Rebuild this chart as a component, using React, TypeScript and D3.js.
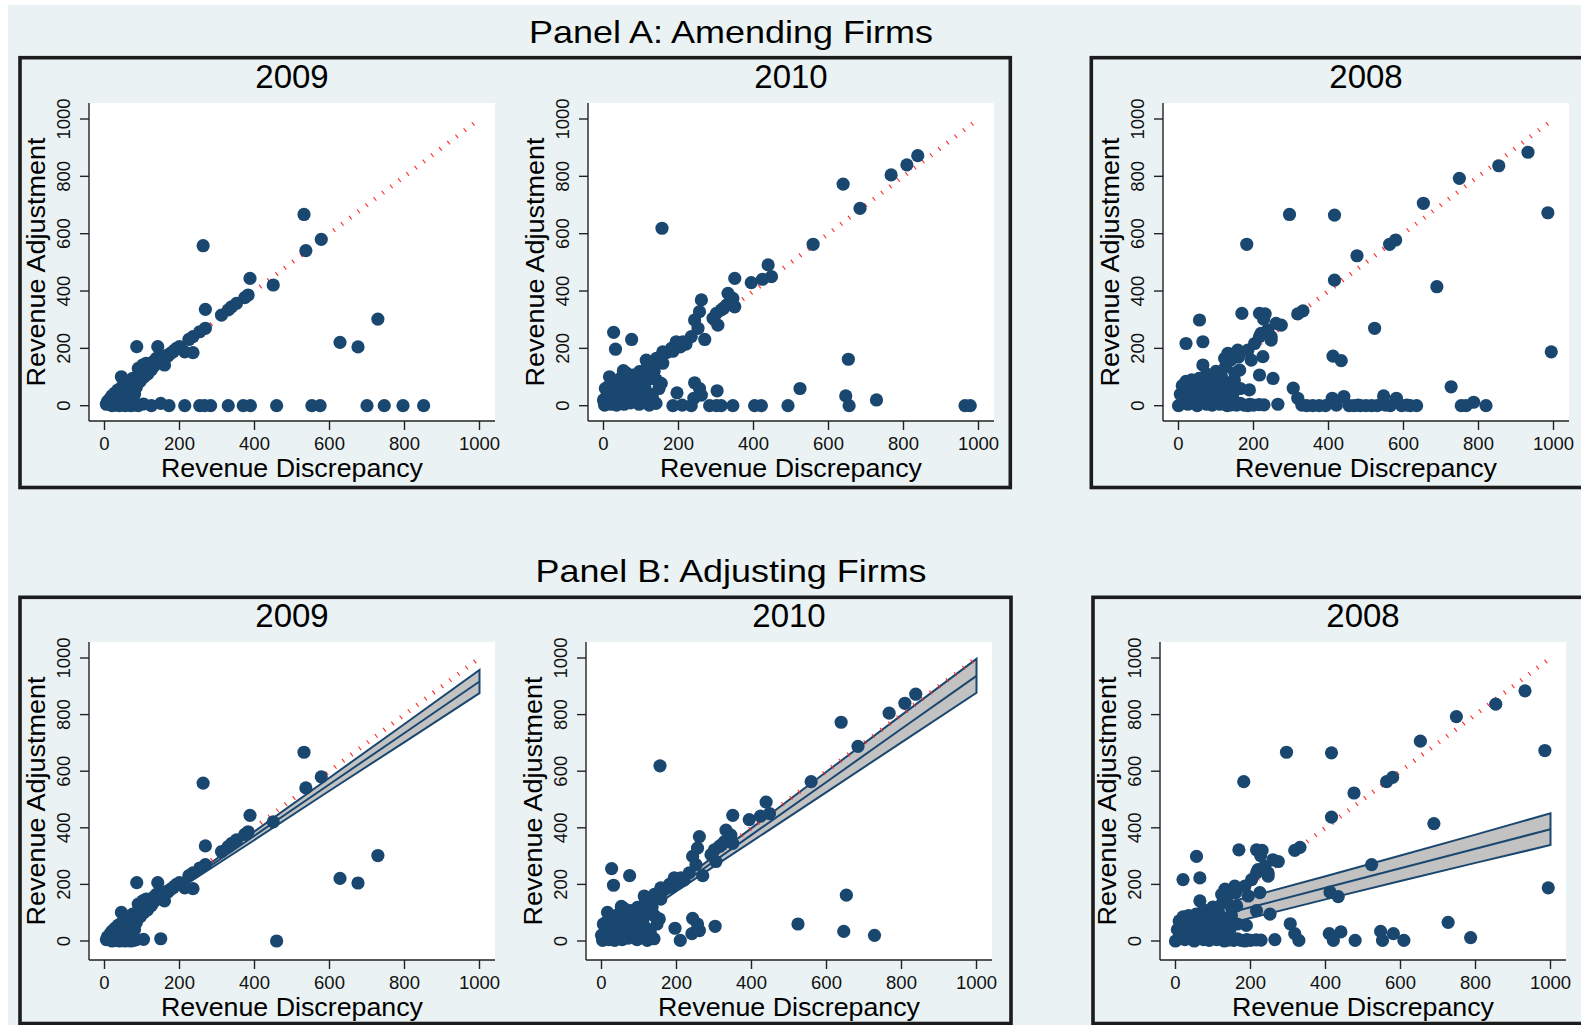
import React from 'react';
import * as d3 from 'd3';

type Pt = [number, number];

// ---------- data ----------
const years = ['2009', '2010', '2008'];
const xTicks = [0, 200, 400, 600, 800, 1000];
const yTicks = [0, 200, 400, 600, 800, 1000];

// firms with a revenue adjustment (appear in Panel A and Panel B)
const adj2009: Pt[] = [
  [532, 667], [263, 558], [578, 580], [537, 541], [388, 444], [450, 421], [383, 386], [374, 377],
  [352, 357], [339, 345], [330, 334], [312, 316], [269, 336], [269, 270], [254, 258], [236, 241],
  [225, 231], [236, 185], [214, 188], [200, 206], [183, 188], [169, 173], [160, 142], [142, 206],
  [86, 206], [729, 302], [628, 221], [676, 205], [459, 0], [104, 6], [150, 8],
  [5, 5], [8, 15], [12, 8], [15, 25], [18, 3], [20, 35], [25, 15], [28, 45], [30, 2], [33, 28],
  [36, 55], [40, 10], [42, 38], [45, 101], [46, 65], [50, 22], [52, 48], [55, 75], [58, 5], [60, 35],
  [62, 60], [65, 85], [68, 20], [70, 50], [72, 72], [75, 95], [78, 2], [80, 40], [82, 80], [85, 65],
  [88, 95], [90, 130], [95, 85], [98, 105], [102, 142], [105, 100], [110, 120], [111, 148], [115, 110],
  [120, 135], [125, 125], [129, 153], [133, 140], [138, 165], [145, 150], [150, 160], [155, 170],
  [165, 175], [175, 182], [185, 192], [192, 200], [20, 0], [40, 0], [55, 0], [70, 0], [85, 5],
];
// amending firms with zero adjustment (Panel A only)
const zero2009 = [90, 125, 172, 214, 254, 267, 283, 330, 370, 389, 553, 575, 700, 746, 796, 851];

const adj2010: Pt[] = [
  [838, 872], [809, 840], [767, 805], [639, 773], [684, 688], [559, 563], [156, 619], [439, 491],
  [448, 450], [424, 441], [394, 429], [350, 444], [332, 392], [345, 374], [350, 345], [328, 351],
  [314, 334], [301, 322], [292, 305], [305, 281], [261, 369], [256, 328], [243, 299], [270, 231],
  [252, 270], [234, 241], [212, 223], [194, 223], [181, 200], [168, 185], [158, 188], [158, 148],
  [141, 165], [130, 150], [114, 159], [114, 130], [96, 119], [27, 256], [32, 197], [75, 231],
  [53, 122], [16, 101], [12, 66], [78, 107], [78, 66], [110, 66], [141, 90], [154, 78], [196, 45],
  [243, 80], [256, 60], [261, 37], [241, 26], [303, 52], [524, 60], [646, 34], [653, 162], [728, 20],
  [210, 2], [335, 355], [320, 340], [340, 365], [220, 215], [205, 205], [185, 190],
  [3, 2], [8, 30], [10, 10], [15, 50], [20, 5], [22, 80], [25, 25], [30, 45], [35, 2], [38, 65],
  [42, 20], [45, 95], [50, 40], [55, 5], [58, 75], [62, 25], [65, 55], [68, 100], [72, 10], [75, 40],
  [80, 85], [85, 20], [88, 55], [92, 100], [95, 5], [100, 35], [104, 70], [108, 115], [112, 15],
  [118, 45], [122, 2], [125, 95], [130, 30], [135, 120], [140, 8], [148, 60], [5, 60], [0, 20], [60, 115],
];
const zero2010 = [185, 234, 283, 301, 314, 345, 403, 421, 492, 655, 964, 978];

const adj2008: Pt[] = [
  [0, 0], [5, 40], [10, 10], [10, 70], [15, 25], [20, 50], [20, 85], [25, 5], [30, 35], [30, 65],
  [35, 90], [40, 15], [40, 50], [45, 75], [50, 0], [50, 30], [55, 60], [55, 95], [60, 15], [65, 45],
  [65, 142], [70, 80], [75, 5], [75, 110], [80, 35], [85, 60], [90, 95], [95, 15], [100, 45], [100, 120],
  [105, 75], [110, 5], [115, 100], [120, 30], [120, 60], [125, 135], [130, 10], [135, 80], [140, 160],
  [145, 40], [150, 115], [155, 2], [160, 170], [165, 60], [175, 2], [190, 5], [200, 2], [215, 4],
  [228, 3], [130, 0], [90, 2], [140, 3], [165, 8], [185, 0],
  [149, 90], [149, 55], [163, 124], [123, 165], [132, 183], [158, 194], [185, 194], [203, 217],
  [220, 252], [238, 264], [247, 241], [247, 229], [216, 241], [225, 171], [194, 159], [216, 107],
  [252, 95], [189, 55], [260, 287], [274, 281], [216, 322], [231, 320], [227, 302], [169, 322],
  [20, 217], [65, 223], [56, 299], [182, 563], [296, 667], [416, 665], [416, 438], [412, 173],
  [434, 157], [332, 331], [318, 320], [476, 523], [523, 270], [563, 563], [579, 578], [653, 706],
  [689, 415], [727, 66], [749, 793], [854, 837], [932, 884], [985, 673], [994, 188], [265, 5],
  [306, 61], [318, 26], [329, 2], [410, 26], [421, 2], [441, 32], [479, 2], [547, 34], [552, 2],
  [581, 26], [609, 2], [787, 12],
];
const zero2008 = [342, 358, 375, 392, 455, 468, 485, 500, 515, 530, 565, 595, 618, 635, 754, 767, 820];

// linear fit with confidence band (Panel B)
const fitX = [0, 200, 400, 600, 800, 1000];
const fitMid2009 = [9, 191, 372, 554, 735, 917];
const fitLo2009 = [4, 185, 357, 531, 703, 876];
const fitHi2009 = [14, 197, 387, 577, 767, 958];
const fitMid2010 = [0, 188, 375, 562, 750, 937];
const fitLo2010 = [-6, 176, 351, 526, 702, 877];
const fitHi2010 = [6, 200, 399, 598, 798, 997];
const fitMid2008 = [50, 119, 188, 257, 326, 395];
const fitLo2008 = [14, 81, 147, 212, 276, 339];
const fitHi2008 = [86, 157, 229, 302, 376, 451];

const NAVY = '#1a476f';
const BG = '#eaf2f3';
const FONT = 'Liberation Sans, Arial, Helvetica, sans-serif';

type Fit = { mid: number[]; lo: number[]; hi: number[] };

function Plot({ axisX, top, y0px, title, points, fit }: {
  axisX: number; top: number; y0px: number; title: string; points: Pt[]; fit?: Fit;
}) {
  const w = 406;
  const h = 318;
  const bottom = top + h;
  const x = d3.scaleLinear().domain([0, 1000]).range([axisX + 15.5, axisX + 390.5]);
  const y = d3.scaleLinear().domain([0, 1000]).range([top + y0px, top + 16]);
  const cx = axisX + w / 2;

  let band: string | null = null;
  let midLine: string | null = null;
  if (fit) {
    const rows = fitX.map((v, i) => ({ x: v, lo: fit.lo[i], hi: fit.hi[i], mid: fit.mid[i] }));
    band = d3.area<typeof rows[0]>().x(d => x(d.x)).y0(d => y(d.lo)).y1(d => y(d.hi))(rows);
    midLine = d3.line<typeof rows[0]>().x(d => x(d.x)).y(d => y(d.mid))(rows);
  }
  const diag = d3.line<number>().x(d => x(d)).y(d => y(d))([0, 1000]);

  return (
    <g>
      <rect x={axisX} y={top} width={w} height={h} fill="#fff" />
      {band && <path d={band + 'Z'} fill="#c2c2c2" stroke={NAVY} strokeWidth={2} />}
      {midLine && <path d={midLine} fill="none" stroke={NAVY} strokeWidth={2} />}
      <path d={diag!} fill="none" stroke="#ff2a2a" strokeWidth={4.6} strokeDasharray="1.1 9.2" />
      {points.map((p, i) => (
        <circle key={i} cx={x(p[0])} cy={y(p[1])} r={6.6} fill={NAVY} />
      ))}
      <line x1={axisX} x2={axisX} y1={top} y2={bottom} stroke="#222" strokeWidth={1.4} />
      <line x1={axisX} x2={axisX + w} y1={bottom} y2={bottom} stroke="#222" strokeWidth={1.4} />
      {yTicks.map(t => (
        <g key={'y' + t}>
          <line x1={axisX - 9} x2={axisX} y1={y(t)} y2={y(t)} stroke="#222" strokeWidth={1.4} />
          <text transform={`translate(${axisX - 19},${y(t)}) rotate(-90)`} textAnchor="middle"
            fontSize={18.5} fontFamily={FONT} fill="#111">{t}</text>
        </g>
      ))}
      {xTicks.map(t => (
        <g key={'x' + t}>
          <line x1={x(t)} x2={x(t)} y1={bottom} y2={bottom + 9} stroke="#222" strokeWidth={1.4} />
          <text x={x(t)} y={bottom + 29} textAnchor="middle" fontSize={18.5} fontFamily={FONT} fill="#111">{t}</text>
        </g>
      ))}
      <text x={cx} y={top - 15} textAnchor="middle" fontSize={33} fontFamily={FONT} fill="#000">{title}</text>
      <text x={cx} y={bottom + 56} textAnchor="middle" fontSize={26} fontFamily={FONT} fill="#000"
        textLength={262} lengthAdjust="spacingAndGlyphs">Revenue Discrepancy</text>
      <text transform={`translate(${axisX - 44},${top + h / 2}) rotate(-90)`} textAnchor="middle"
        fontSize={26} fontFamily={FONT} fill="#000" textLength={249} lengthAdjust="spacingAndGlyphs">
        Revenue Adjustment
      </text>
    </g>
  );
}

const withZeros = (adj: Pt[], zeros: number[]): Pt[] => [...adj, ...zeros.map(v => [v, 0] as Pt)];

export default function App() {
  const adjSets = [adj2009, adj2010, adj2008];
  const zeroSets = [zero2009, zero2010, zero2008];
  const fits: Fit[] = [
    { mid: fitMid2009, lo: fitLo2009, hi: fitHi2009 },
    { mid: fitMid2010, lo: fitLo2010, hi: fitHi2010 },
    { mid: fitMid2008, lo: fitLo2008, hi: fitHi2008 },
  ];
  const panels = [
    { heading: 'Panel A: Amending Firms', headW: 404, headY: 43, top: 103, y0px: 302.7,
      axes: [89, 588, 1163], fTop: 57.7, fBot: 487.5, fRight: 1010.3, f2Left: 1091.3, adjusting: false },
    { heading: 'Panel B: Adjusting Firms', headW: 391, headY: 582, top: 642, y0px: 299,
      axes: [89, 586, 1160], fTop: 597.3, fBot: 1023.5, fRight: 1011, f2Left: 1093, adjusting: true },
  ];

  return (
    <svg width={1581} height={1025} style={{ position: 'absolute', left: 0, top: 0 }}>
      <rect x={8} y={5} width={1581} height={1030} fill={BG} />
      {panels.map((p, pi) => (
        <g key={pi}>
          <text x={731} y={p.headY} textAnchor="middle" fontSize={32} fontFamily={FONT} fill="#000"
            textLength={p.headW} lengthAdjust="spacingAndGlyphs">{p.heading}</text>
          <rect x={20} y={p.fTop} width={p.fRight - 20} height={p.fBot - p.fTop} fill="none"
            stroke="#1c1c1c" strokeWidth={3.6} />
          <rect x={p.f2Left} y={p.fTop} width={700} height={p.fBot - p.fTop} fill="none"
            stroke="#1c1c1c" strokeWidth={3.6} />
          {years.map((yr, i) => (
            <Plot key={yr} axisX={p.axes[i]} top={p.top} y0px={p.y0px} title={yr}
              points={p.adjusting ? adjSets[i] : withZeros(adjSets[i], zeroSets[i])}
              fit={p.adjusting ? fits[i] : undefined} />
          ))}
        </g>
      ))}
    </svg>
  );
}
